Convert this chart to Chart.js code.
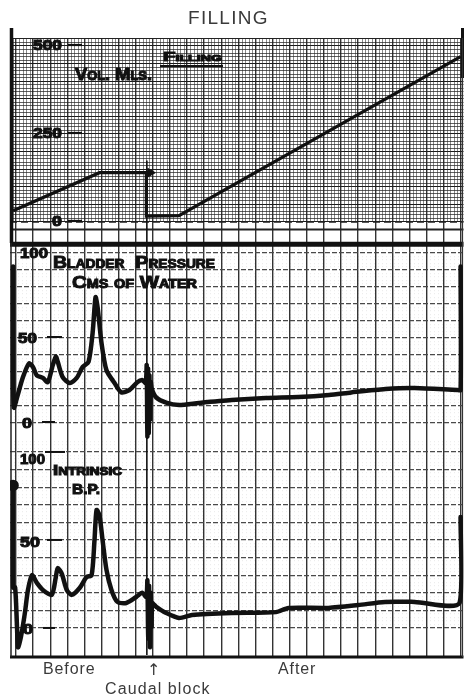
<!DOCTYPE html>
<html><head><meta charset="utf-8">
<script src="https://cdn.jsdelivr.net/npm/chart.js@4.4.1/dist/chart.umd.min.js"></script>
<style>
html,body{margin:0;padding:0;background:#fff;}
#wrap{position:relative;width:472px;height:699px;overflow:hidden;}
#cbox{position:absolute;left:0;top:0;width:472px;height:699px;}
.lbl{position:absolute;font-family:"Liberation Sans",Arial,sans-serif;color:#3a3a3a;white-space:nowrap;line-height:1;}
</style></head><body>
<div id="wrap">
<div id="cbox"><canvas id="c"></canvas></div>
<div class="lbl" style="left:188px;top:8px;font-size:19px;letter-spacing:1.3px;">FILLING</div>
<div class="lbl" style="left:43px;top:661px;font-size:16px;letter-spacing:0.9px;">Before</div>
<div class="lbl" style="left:278px;top:661px;font-size:16px;letter-spacing:0.9px;">After</div>
<div class="lbl" style="left:147px;top:662px;font-size:16px;font-family:'DejaVu Sans',sans-serif;">↑</div>
<div class="lbl" style="left:105px;top:681px;font-size:16px;letter-spacing:1.1px;">Caudal block</div>
</div>
<script>
// x values are in chart-paper grid divisions (time)
const volX = [-0.17, 4.88, 7.62, 7.62, 9.53, 25.99];
const volY = [32, 140, 140, 17, 18, 470];
const arrowX = [7.85];
const arrowY = [140];

const bladX = [-0.17, -0.17, -0.12, 0.06, 0.41, 0.76, 0.99, 1.22, 1.57, 1.86, 2.15, 2.33, 2.44, 2.73, 3.14, 3.55, 3.90, 4.24, 4.48, 4.65, 4.77, 5.00, 5.29, 5.76, 6.16, 6.63, 7.09, 7.38, 7.58, 7.64, 7.68, 7.72, 7.76, 7.80, 7.84, 7.88, 7.94, 8.20, 8.78, 9.53, 10.70, 12.60, 14.60, 16.50, 18.30, 19.60, 21.60, 23.30, 25.80, 25.99, 25.99];
const bladY = [92, 27, 9, 15, 27, 35, 33, 28, 26.5, 24, 34, 39, 36, 27, 23.5, 26.5, 33, 36, 53, 74, 68, 47, 31, 23.5, 18, 19.4, 24, 25.3, 23.5, 34, -8, 32, -6, 28, 2, 24, 20, 15, 12, 10.6, 11.8, 13.5, 14.7, 15.3, 16.5, 18, 20, 20.6, 19.4, 19.4, 92];

const bpX = [-0.17, -0.17, -0.05, 0.06, 0.12, 0.29, 0.52, 0.70, 0.93, 1.22, 1.57, 2.09, 2.33, 2.44, 2.67, 2.97, 3.26, 3.72, 4.13, 4.42, 4.59, 4.71, 4.88, 5.06, 5.29, 5.58, 5.93, 6.45, 7.03, 7.38, 7.62, 7.68, 7.73, 7.78, 7.83, 7.88, 7.93, 7.97, 8.20, 8.78, 9.53, 10.29, 12.60, 15.20, 15.93, 18.26, 20.00, 21.57, 23.30, 25.93, 25.99];
const bpY = [81, 23, 23, 0.6, -11, -5, 8.5, 21.6, 30, 25.6, 21.6, 18.8, 29, 34, 31, 21.6, 18.8, 22.7, 29, 30, 50, 67, 64, 50, 33, 21.6, 14.8, 14.2, 17.6, 20, 17.6, 27, -6, 24, -11, 20, 0.6, 14, 12, 8.5, 5.7, 7.4, 8.5, 9, 11.4, 11.4, 13, 14.8, 14.8, 14.2, 63];

const caudalBlockAt = [7.65];
const volTickValues = [500, 250, 0];
const volTickLabels = ['500', '250', '0'];
const bladTickValues = [100, 50, 0];
const bladTickLabels = ['100', '50', '0'];
const bpTickValues = [100, 50, 0];
const bpTickLabels = ['100', '50', '0'];

const pts = (xs, ys) => xs.map((x, i) => ({x, y: ys[i]}));
const FONT = '"Liberation Sans", Arial, sans-serif';

function drawFit(ctx, text, x, y, width, size, caps) {
  ctx.save();
  ctx.font = (caps ? 'small-caps ' : '') + 'bold ' + size + 'px ' + FONT;
  if (caps && 'fontVariantCaps' in ctx) ctx.fontVariantCaps = 'small-caps';
  const w = ctx.measureText(text).width;
  ctx.translate(x, y);
  ctx.scale(width / w, 1);
  ctx.textBaseline = 'middle';
  ctx.textAlign = 'left';
  ctx.fillStyle = '#111';
  ctx.strokeStyle = '#111';
  ctx.lineWidth = 1.0;
  ctx.fillText(text, 0, 0);
  ctx.strokeText(text, 0, 0);
  ctx.restore();
}
function hline(ctx, x1, x2, y, w, color, dash) {
  ctx.save(); ctx.strokeStyle = color || '#111'; ctx.lineWidth = w;
  if (dash) ctx.setLineDash(dash);
  ctx.beginPath(); ctx.moveTo(x1, y); ctx.lineTo(x2, y); ctx.stroke(); ctx.restore();
}
function vline(ctx, x, y1, y2, w, color) {
  ctx.save(); ctx.strokeStyle = color || '#111'; ctx.lineWidth = w;
  ctx.beginPath(); ctx.moveTo(x, y1); ctx.lineTo(x, y2); ctx.stroke(); ctx.restore();
}

const paper = {
  id: 'paper',
  beforeDatasetsDraw(chart) {
    const {ctx, chartArea: a, scales} = chart;
    const {x, yV} = scales;
    const yTop = a.top, yZero = yV.getPixelForValue(0);
    ctx.save();
    ctx.strokeStyle = 'rgba(40,40,40,0.55)';
    ctx.lineWidth = 1;
    for (let k = Math.ceil(x.min * 5); k <= Math.floor(x.max * 5); k++) {
      if (k % 5 === 0) continue;
      const px = Math.round(x.getPixelForValue(k / 5)) + 0.5;
      ctx.beginPath(); ctx.moveTo(px, yTop); ctx.lineTo(px, yZero); ctx.stroke();
    }
    ctx.restore();
    // zero line (dashed) and separator band
    hline(ctx, a.left, a.right, yZero, 1.5, '#222', [7, 4]);
    hline(ctx, a.left, a.right, yV.getPixelForValue(-21), 2, '#222');
    hline(ctx, a.left, a.right, yV.getPixelForValue(-63), 5, '#111');
    // frame
    hline(ctx, a.left, a.right, a.top + 0.5, 1.2, '#222');
    hline(ctx, a.left, a.right, a.bottom, 3, '#111');
    vline(ctx, a.left + 1.5, a.top - 10, yV.getPixelForValue(-60), 3.5, '#111');
    vline(ctx, a.left + 1, yV.getPixelForValue(-60), a.bottom, 1.5, '#222');
    vline(ctx, a.right - 1, a.top - 10, a.top + 40, 3, '#111');
    vline(ctx, a.right - 1, a.top, a.bottom, 1.2, '#333');
    // caudal block marker
    const cx = x.getPixelForValue(caudalBlockAt[0]);
    vline(ctx, cx, yV.getPixelForValue(175), a.bottom - 2, 1.6, '#111');
  }
};

const labels = {
  id: 'labels',
  afterDatasetsDraw(chart) {
    const {ctx, scales: {yV, yB, yI}} = chart;
    const vLeft = [33, 33, 52], vW = [29, 29, 10];
    volTickValues.forEach((v, i) => {
      const py = yV.getPixelForValue(v);
      drawFit(ctx, volTickLabels[i], vLeft[i], py, vW[i], 14, false);
      hline(ctx, 68, 82, py - 1, 2.2);
    });
    const bLeft = [20, 18, 22], bW = [28, 19, 10], bDash = [null, [47, 62], [42, 55]];
    bladTickValues.forEach((v, i) => {
      const py = yB.getPixelForValue(v);
      drawFit(ctx, bladTickLabels[i], bLeft[i], py + 1, bW[i], 14, false);
      if (bDash[i]) hline(ctx, bDash[i][0], bDash[i][1], py - 1, 2);
    });
    const iLeft = [20, 20, 23], iW = [25, 20, 10], iOff = [8, 3, 2], iDash = [[45, 65], [47, 62], [43, 55]];
    bpTickValues.forEach((v, i) => {
      const py = yI.getPixelForValue(v);
      drawFit(ctx, bpTickLabels[i], iLeft[i], py + iOff[i], iW[i], 14, false);
      hline(ctx, iDash[i][0], iDash[i][1], py, 2);
    });
    drawFit(ctx, 'Vol. Mls.', 75, 75, 77, 17, true);
    drawFit(ctx, 'Filling', 163, 57, 59, 13, true);
    hline(ctx, 160, 223, 66, 2.2);
    drawFit(ctx, 'Bladder  Pressure', 53, 263, 162, 17, true);
    drawFit(ctx, 'Cms of Water', 72, 283, 125, 17, true);
    drawFit(ctx, 'Intrinsic', 53, 471, 69, 14, true);
    drawFit(ctx, 'B.P.', 72, 490, 28, 14, true);
  }
};

const lowerGrid = (ctx) => {
  const v = Math.round(ctx.tick.value);
  if (v < 0) return 'rgba(0,0,0,0)';
  return v % 10 === 0 ? '#4a4a4a' : 'rgba(0,0,0,0.07)';
};
const lowerDash = (ctx) => (Math.round(ctx.tick.value) % 10 === 0 ? [5, 2] : [1, 3]);

new Chart(document.getElementById('c'), {
  type: 'line',
  data: {
    datasets: [
      {label: 'Volume (mls)', data: pts(volX, volY), yAxisID: 'yV', borderColor: '#111', borderWidth: 3.2, pointRadius: 0, tension: 0},
      {label: 'Filling arrow', data: pts(arrowX, arrowY), yAxisID: 'yV', showLine: false, pointStyle: 'triangle', rotation: 90, pointRadius: 5, backgroundColor: '#111', borderColor: '#111'},
      {label: 'Bladder pressure (cms of water)', data: pts(bladX, bladY), yAxisID: 'yB', borderColor: '#111', borderWidth: 4.5, pointRadius: 0, tension: 0.25, borderJoinStyle: 'round', borderCapStyle: 'round'},
      {label: 'Intrinsic B.P.', data: pts(bpX, bpY), yAxisID: 'yI', borderColor: '#111', borderWidth: 4.5, tension: 0.25, borderJoinStyle: 'round', borderCapStyle: 'round',
        pointRadius: bpX.map((_, i) => i === 0 ? 3.5 : 0), pointBackgroundColor: '#111', pointBorderColor: '#111'}
    ]
  },
  options: {
    responsive: true, maintainAspectRatio: false, animation: false,
    layout: {padding: {left: 10, right: 6, top: 38, bottom: 42}},
    plugins: {legend: {display: false}, tooltip: {enabled: false}},
    scales: {
      x: {type: 'linear', min: -0.35, max: 26.16,
          ticks: {display: false, stepSize: 1, includeBounds: false},
          grid: {color: '#333', lineWidth: 1.4, drawTicks: false}, border: {display: false}},
      yV: {type: 'linear', position: 'left', stack: 'panels', stackWeight: 208, weight: 3,
           min: -68.2, max: 522.7,
           ticks: {display: false, stepSize: 10, includeBounds: false},
           grid: {drawTicks: false, lineWidth: 1,
                  color: (c) => { const v = Math.round(c.tick.value); return v < 0 ? 'rgba(0,0,0,0)' : (v % 50 === 0 ? '#1a1a1a' : 'rgba(30,30,30,0.7)'); }},
           border: {display: false}},
      yB: {type: 'linear', position: 'left', stack: 'panels', stackWeight: 194, weight: 2,
           min: -10, max: 104.1,
           ticks: {display: false, stepSize: 2, includeBounds: false},
           grid: {drawTicks: false, lineWidth: 1.2, color: lowerGrid},
           border: {display: false, dash: lowerDash}},
      yI: {type: 'linear', position: 'left', stack: 'panels', stackWeight: 217, weight: 1,
           min: -16.5, max: 106.8,
           ticks: {display: false, stepSize: 2, includeBounds: false},
           grid: {drawTicks: false, lineWidth: 1.2, color: lowerGrid},
           border: {display: false, dash: lowerDash}}
    }
  },
  plugins: [paper, labels]
});
</script>
</body></html>
